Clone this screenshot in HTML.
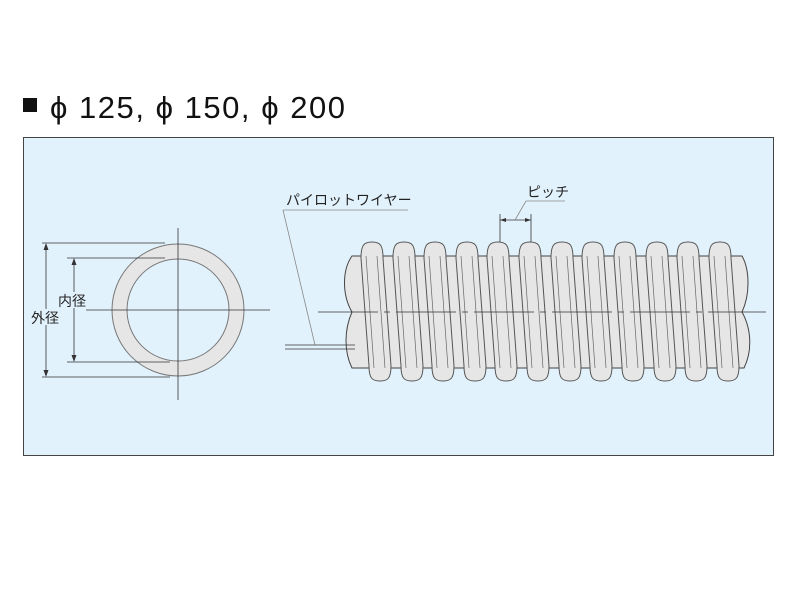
<!DOCTYPE html>
<html><head><meta charset="utf-8"><style>
body{margin:0;background:#fff;width:800px;height:600px;overflow:hidden}
</style></head><body>
<svg width="800" height="600" xmlns="http://www.w3.org/2000/svg" font-family="'Liberation Sans','Noto Sans CJK JP',sans-serif">
<defs>
<g id="r"><path d="M-11,258 C-11,245 -8,242 0,242 C8,242 11,245 11,258 L19,366 C19,378 16,381 8,381 C0,381 -3,378 -3,366 Z" fill="#e6e6e6" stroke="#555" stroke-width="1"/><path d="M-6,256 L2,368 M5,256 L13,368" fill="none" stroke="#666" stroke-width="0.7"/></g>
</defs>
<rect x="0" y="0" width="800" height="600" fill="#fff"/>
<rect x="23" y="98" width="14" height="14" fill="#111"/>
<text x="50" y="118" font-size="31" fill="#111" textLength="295" lengthAdjust="spacing">ϕ 125, ϕ 150, ϕ 200</text>
<rect x="23.5" y="137.5" width="750" height="318" fill="#e2f2fc" stroke="#444" stroke-width="1"/>
<!-- circle -->
<circle cx="178" cy="310" r="58.5" fill="none" stroke="#e6e6e6" stroke-width="15"/>
<circle cx="178" cy="310" r="66" fill="none" stroke="#777" stroke-width="1"/>
<circle cx="178" cy="310" r="51" fill="none" stroke="#777" stroke-width="1"/>
<g stroke="#333" stroke-width="0.8">
<line x1="178" y1="228" x2="178" y2="400"/>
<line x1="86" y1="310" x2="270" y2="310"/>
<line x1="42" y1="243" x2="165" y2="243"/>
<line x1="42" y1="377" x2="170" y2="377"/>
<line x1="67" y1="258" x2="165" y2="258"/>
<line x1="67" y1="362" x2="170" y2="362"/>
<line x1="46" y1="245" x2="46" y2="375"/>
<line x1="74" y1="260" x2="74" y2="360"/>
</g>
<g fill="#333">
<path d="M46,243 l-2.5,7 h5z"/><path d="M46,377 l-2.5,-7 h5z"/>
<path d="M74,258 l-2.5,7 h5z"/><path d="M74,362 l-2.5,-7 h5z"/>
</g>
<rect x="56" y="292" width="32" height="16" fill="#e2f2fc"/>
<text x="58" y="306" font-size="14" fill="#222">内径</text>
<rect x="30" y="309" width="32" height="16" fill="#e2f2fc"/>
<text x="31" y="323" font-size="14" fill="#222">外径</text>
<!-- hose body -->
<path d="M352,256 L742,256 C750,270 750,295 742,312 C752,330 752,352 744,368 L352,368 C344,352 344,330 352,312 C342,295 342,270 352,256 Z" fill="#e6e6e6" stroke="#444" stroke-width="1"/>
<use href="#r" x="372"/><use href="#r" x="404"/><use href="#r" x="435"/><use href="#r" x="467"/><use href="#r" x="498"/><use href="#r" x="530"/><use href="#r" x="562"/><use href="#r" x="593"/><use href="#r" x="625"/><use href="#r" x="657"/><use href="#r" x="688"/><use href="#r" x="720"/>
<g stroke="#333" stroke-width="0.8">
<line x1="318" y1="312" x2="766" y2="312" stroke-dasharray="60,6,6,6"/>
<line x1="285" y1="345" x2="355" y2="345"/>
<line x1="285" y1="349" x2="355" y2="349"/>
<line x1="283" y1="210" x2="408" y2="210" stroke="#888"/>
<line x1="283" y1="210" x2="315" y2="345" stroke="#888"/>
<line x1="500" y1="214" x2="500" y2="242"/>
<line x1="531" y1="214" x2="531" y2="242"/>
<line x1="500" y1="220" x2="531" y2="220"/>
<line x1="515" y1="220" x2="526" y2="201" stroke="#888"/>
<line x1="526" y1="201" x2="565" y2="201" stroke="#888"/>
</g>
<path d="M500,220 l6,-2 v4z M531,220 l-6,-2 v4z" fill="#333"/>
<text x="286" y="205" font-size="14" fill="#222">パイロットワイヤー</text>
<text x="527" y="197" font-size="14" fill="#222">ピッチ</text>
</svg>
</body></html>
